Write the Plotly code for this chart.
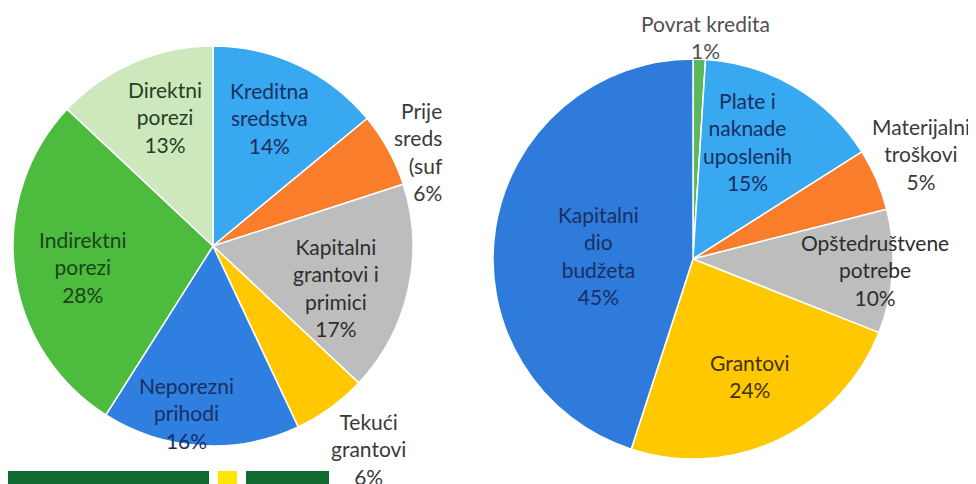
import math
import plotly.graph_objects as go

PAGE_W, PAGE_H = 976, 484
OFF = 8  # default page body margin
W, H = PAGE_W - OFF, PAGE_H - OFF

# ---- data ----
left_labels = ["Kreditna sredstva", "Prijenos sredstava (suficit)", "Kapitalni grantovi i primici",
               "Tekući grantovi", "Neporezni prihodi", "Indirektni porezi", "Direktni porezi"]
left_values = [14, 6, 17, 6, 16, 28, 13]
left_text = ["Kreditna<br>sredstva", "Prije<br>sreds<br>(suf", "Kapitalni<br>grantovi i<br>primici",
             "Tekući<br>grantovi", "Neporezni<br>prihodi", "Indirektni<br>porezi", "Direktni<br>porezi"]
left_pct_text = ["14%", "6%", "17%", "6%", "16%", "28%", "13%"]

right_labels = ["Povrat kredita", "Plate i naknade uposlenih", "Materijalni troškovi",
                "Opštedruštvene potrebe", "Grantovi", "Kapitalni dio budžeta"]
right_values = [1, 15, 5, 10, 24, 45]
right_text = ["Povrat kredita", "Plate i<br>naknade<br>uposlenih", "Materijalni<br>troškovi",
              "Opštedruštvene<br>potrebe", "Grantovi", "Kapitalni<br>dio<br>budžeta"]
right_pct_text = ["1%", "15%", "5%", "10%", "24%", "45%"]

# ---- styles ----
left_colors = ["#38a8f0", "#f97d2b", "#bdbdbd", "#ffc800", "#2f7fe0", "#4dbb3e", "#cde8bd"]
right_colors = ["#5cb85c", "#38a8f0", "#f97d2b", "#bdbdbd", "#ffc800", "#2f7bdc"]
left_txtcol = ["#1a2f60", "#3a3a3a", "#2e2e2e", "#3a3a3a", "#1a2f60", "#1a451a", "#253f25"]
right_txtcol = ["#505050", "#1a2f60", "#3a3a3a", "#2e2e2e", "#3f3200", "#1a2f60"]
# label placement: (radius fraction, angle offset deg, xanchor)
left_place = [(0.70, -1.2, "center"), (1.25, 6.7, "right"), (0.65, 6.0, "center"),
              (1.28, -1.4, "center"), (0.845, 5.3, "center"), (0.66, -2.0, "center"),
              (0.69, 3.1, "center")]
right_place = [(1.11, 1.3, "center"), (0.65, -5.6, "center"), (1.255, -1.3, "center"),
               (0.91, 0.0, "center"), (0.65, -0.8, "center"), (0.475, -7.0, "center")]

LEFT_C, LEFT_R = (213, 246), 200
RIGHT_C, RIGHT_R = (693, 259), 200
FONT = "Lato, 'Open Sans', sans-serif"
FS = 21


def fx(px):
    return (px - OFF) / W


def fy(py):
    return 1 - (py - OFF) / H


def domain(c, r):
    cx, cy = c
    return dict(x=[fx(cx - r), fx(cx + r)], y=[fy(cy + r), fy(cy - r)])


fig = go.Figure()
for labels, values, colors, c, r in [(left_labels, left_values, left_colors, LEFT_C, LEFT_R),
                                      (right_labels, right_values, right_colors, RIGHT_C, RIGHT_R)]:
    fig.add_trace(go.Pie(labels=labels, values=values, sort=False, direction="clockwise",
                         rotation=0, textinfo="none", hoverinfo="label+percent",
                         marker=dict(colors=colors, line=dict(color="white", width=1.5)),
                         domain=domain(c, r), showlegend=False))

annotations = []
for values, texts, pcts, cols, places, c, r in [
        (left_values, left_text, left_pct_text, left_txtcol, left_place, LEFT_C, LEFT_R),
        (right_values, right_text, right_pct_text, right_txtcol, right_place, RIGHT_C, RIGHT_R)]:
    total = sum(values)
    cum = 0
    for v, t, p, col, (rf, dth, xa) in zip(values, texts, pcts, cols, places):
        mid = (cum + v / 2) / total * 360 + dth
        cum += v
        a = math.radians(mid)
        px = c[0] + rf * r * math.sin(a)
        py = c[1] - rf * r * math.cos(a)
        annotations.append(dict(x=fx(px), y=fy(py), xref="paper", yref="paper",
                                text=t + "<br>" + p, showarrow=False, xanchor=xa, yanchor="middle",
                                align="right" if xa == "right" else "center",
                                font=dict(family=FONT, size=FS, color=col)))

# decorative footer bars (page background elements)
BAR_TOP = fy(471)
shapes = [
    dict(type="rect", xref="paper", yref="paper", x0=0, x1=fx(209), y0=0, y1=BAR_TOP,
         fillcolor="#0e6a2e", line=dict(width=0), layer="above"),
    dict(type="rect", xref="paper", yref="paper", x0=fx(218), x1=fx(237), y0=0, y1=BAR_TOP,
         fillcolor="#ffe600", line=dict(width=0), layer="above"),
    dict(type="rect", xref="paper", yref="paper", x0=fx(246), x1=fx(329), y0=0, y1=BAR_TOP,
         fillcolor="#0e6a2e", line=dict(width=0), layer="above"),
]

fig.update_layout(width=W, height=H, autosize=False, margin=dict(l=0, r=0, t=0, b=0),
                  paper_bgcolor="white", plot_bgcolor="white",
                  annotations=annotations, shapes=shapes)
fig.write_html("out.html")
